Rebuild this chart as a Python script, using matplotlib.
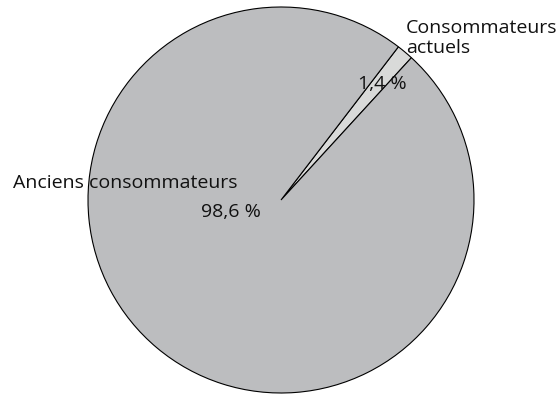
import matplotlib.pyplot as plt

plt.rcParams['font.family'] = ['Open Sans', 'DejaVu Sans']

labels = ["Consommateurs\nactuels", "Anciens consommateurs"]
shares = [1.4, 98.6]
colors = ["#d9dad9", "#bcbdbf"]

# where each category name and percentage sits (data units, pie radius = 1)
label_pos = [(0.648, 0.839), (-1.389, 0.088)]
pct_pos = [(0.523, 0.601), (-0.259, -0.062)]

fig = plt.figure(figsize=(5.59, 3.95), dpi=100)
ax = fig.add_axes([0, 0, 1, 1])

wedges, texts, autotexts = ax.pie(
    shares, labels=labels, colors=colors, startangle=47.5, counterclock=True,
    autopct=lambda p: f"{p:.1f} %".replace(".", ","),
    wedgeprops=dict(edgecolor="black", linewidth=0.8),
    textprops=dict(fontsize=14, color="#111111"))

for t, (x, y) in zip(texts, label_pos):
    t.set_position((x, y))
    t.set_ha("left")
    t.set_va("center")
    t.set_linespacing(1.2)
for t, (x, y) in zip(autotexts, pct_pos):
    t.set_position((x, y))
    t.set_ha("center")
    t.set_va("center")

# pie centre at (281, 200) px, radius 193 px
r = 193.0
ax.set_xlim(-281 / r, (559 - 281) / r)
ax.set_ylim(-(395 - 200) / r, 200 / r)
ax.set_aspect("auto")
ax.axis("off")

fig.savefig("out.png", dpi=100)
